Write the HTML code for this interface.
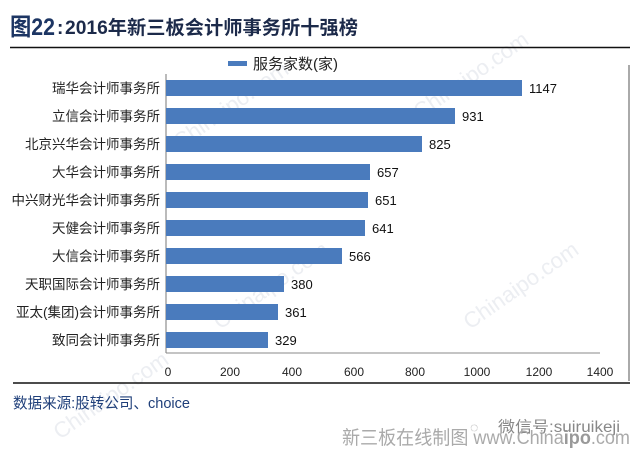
<!DOCTYPE html>
<html><head><meta charset="utf-8">
<style>
html,body{margin:0;padding:0;background:#fff;}
svg{display:block;}
</style></head>
<body>
<svg width="640" height="457" viewBox="0 0 640 457" xmlns="http://www.w3.org/2000/svg" font-family="'Liberation Sans','Noto Sans CJK SC',sans-serif">
<rect width="640" height="457" fill="#fff"/>
<!-- watermarks -->
<g fill="#eceef2" font-size="22" font-family="'Liberation Sans',sans-serif">
<text x="180" y="150" transform="rotate(-35 180 150)">Chinaipo.com</text>
<text x="420" y="120" transform="rotate(-35 420 120)">Chinaipo.com</text>
<text x="470" y="330" transform="rotate(-35 470 330)">Chinaipo.com</text>
<text x="60" y="440" transform="rotate(-35 60 440)">Chinaipo.com</text>
<text x="220" y="330" transform="rotate(-35 220 330)">Chinaipo.com</text>
</g>
<!-- title -->
<text x="10" y="35" font-size="24" font-weight="bold" fill="#1c3563" textLength="45" lengthAdjust="spacingAndGlyphs">图22</text>
<text x="57" y="34" font-size="19" font-weight="bold" fill="#1c2a4a">:</text>
<text x="65" y="34" font-size="19" font-weight="bold" fill="#1c2a4a" textLength="293" lengthAdjust="spacingAndGlyphs">2016年新三板会计师事务所十强榜</text>
<line x1="10" y1="47.5" x2="630" y2="47.5" stroke="#111" stroke-width="1.5"/>
<!-- legend -->
<rect x="228" y="61" width="19" height="5" fill="#4a7bbd"/>
<text x="253" y="69" font-size="15" fill="#222">服务家数(家)</text>
<!-- right border line -->
<line x1="629" y1="65" x2="629" y2="381" stroke="#555" stroke-width="1"/>
<!-- axes -->
<line x1="166" y1="74" x2="166" y2="353" stroke="#777" stroke-width="1"/>
<line x1="166" y1="353" x2="600" y2="353" stroke="#888" stroke-width="1"/>
<!-- bars -->
<g fill="#4a7bbd">
<rect x="166" y="80" width="356" height="16"/>
<rect x="166" y="108" width="289" height="16"/>
<rect x="166" y="136" width="256" height="16"/>
<rect x="166" y="164" width="204" height="16"/>
<rect x="166" y="192" width="202" height="16"/>
<rect x="166" y="220" width="199" height="16"/>
<rect x="166" y="248" width="176" height="16"/>
<rect x="166" y="276" width="118" height="16"/>
<rect x="166" y="304" width="112" height="16"/>
<rect x="166" y="332" width="102" height="16"/>
</g>
<!-- category labels -->
<g font-size="13.5" fill="#222" text-anchor="end">
<text x="160" y="93">瑞华会计师事务所</text>
<text x="160" y="121">立信会计师事务所</text>
<text x="160" y="149">北京兴华会计师事务所</text>
<text x="160" y="177">大华会计师事务所</text>
<text x="160" y="205">中兴财光华会计师事务所</text>
<text x="160" y="233">天健会计师事务所</text>
<text x="160" y="261">大信会计师事务所</text>
<text x="160" y="289">天职国际会计师事务所</text>
<text x="160" y="317">亚太(集团)会计师事务所</text>
<text x="160" y="345">致同会计师事务所</text>
</g>
<!-- value labels -->
<g font-size="13" fill="#111">
<text x="529" y="93">1147</text>
<text x="462" y="121">931</text>
<text x="429" y="149">825</text>
<text x="377" y="177">657</text>
<text x="375" y="205">651</text>
<text x="372" y="233">641</text>
<text x="349" y="261">566</text>
<text x="291" y="289">380</text>
<text x="285" y="317">361</text>
<text x="275" y="345">329</text>
</g>
<!-- tick labels -->
<g font-size="12" fill="#222" text-anchor="middle">
<text x="168" y="376">0</text>
<text x="230" y="376">200</text>
<text x="292" y="376">400</text>
<text x="354" y="376">600</text>
<text x="415" y="376">800</text>
<text x="477" y="376">1000</text>
<text x="539" y="376">1200</text>
<text x="600" y="376">1400</text>
</g>
<line x1="13" y1="383" x2="630" y2="383" stroke="#111" stroke-width="1.5"/>
<!-- source -->
<text x="13" y="408" font-size="15" fill="#1f3f7a" textLength="177" lengthAdjust="spacingAndGlyphs">数据来源:股转公司、choice</text>
<!-- footer -->
<g fill="#999">
<text x="470" y="432" font-size="14">◌</text>
<text x="498" y="432" font-size="15.5" fill="#888" textLength="122" lengthAdjust="spacingAndGlyphs">微信号:suiruikeji</text>
<text x="342" y="444" font-size="19" fill="#aaa" textLength="288" lengthAdjust="spacingAndGlyphs">新三板在线制图 www.China<tspan font-weight="bold" fill="#999">ipo</tspan>.com</text>
</g>
</svg>
</body></html>
